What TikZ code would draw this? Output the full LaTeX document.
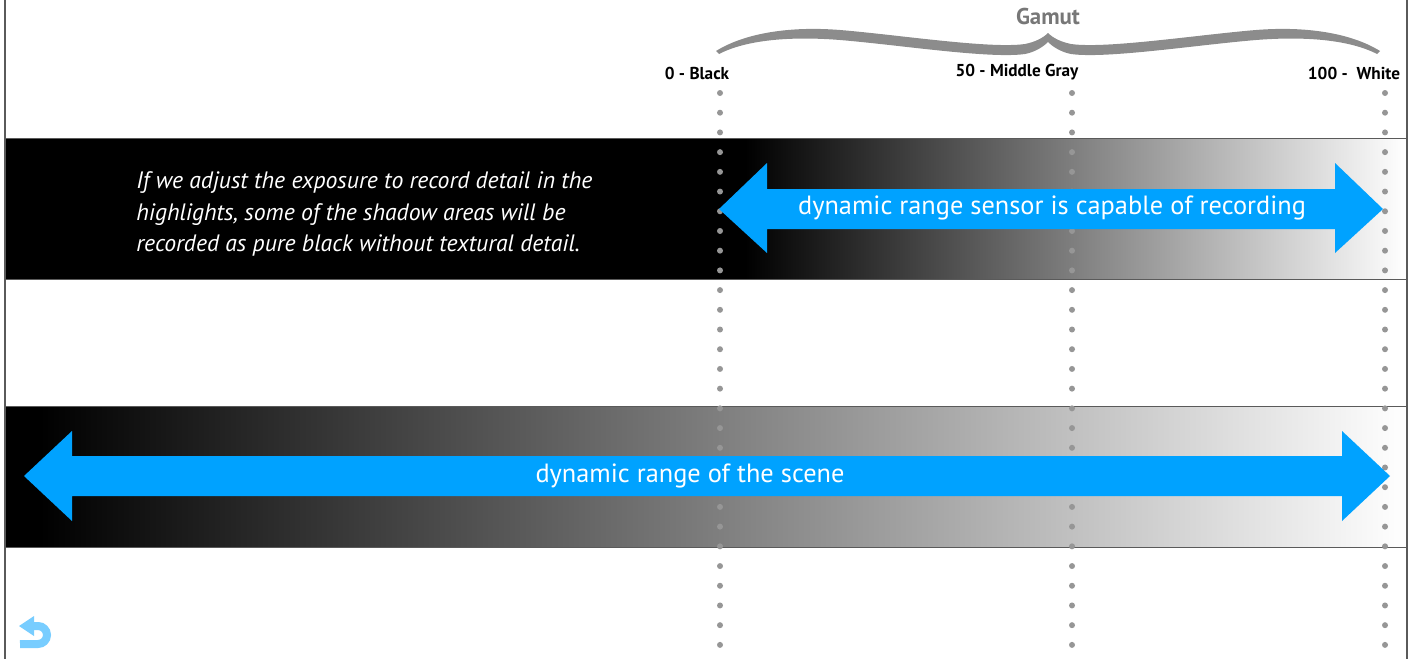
\documentclass[tikz,border=0pt]{standalone}
\usepackage{fontspec}
\setmainfont{PT Sans}
\usetikzlibrary{calc}
\definecolor{arrowblue}{RGB}{0,162,255}
\definecolor{dotgray}{RGB}{150,150,150}
\definecolor{bracegray}{RGB}{140,140,140}
\definecolor{iconblue}{RGB}{120,205,255}
\definecolor{framegray}{RGB}{90,90,90}
\tikzset{>=stealth,
  scale label/.style={font=\fontsize{9.8pt}{11pt}\selectfont\bfseries, text=black},
  arrow text/.style={text=white, font=\fontsize{15pt}{17pt}\selectfont}
}

\begin{document}
\begin{tikzpicture}[x=0.02cm,y=-0.02cm]
    \useasboundingbox (0,0) rectangle (1413,659);

    % the two bands
    \fill[black] (5,138) rectangle (745,279);
    \shade[left color=black,right color=white] (745,138) rectangle (1407,279);
    \fill[black] (5,406) rectangle (40,547);
    \shade[left color=black,right color=white] (40,406) rectangle (1407,547);
    \foreach \y in {138,279,406,547}
        \draw[framegray,line width=0.02cm] (5,\y) -- (1407,\y);
    \draw[framegray,line width=0.04cm] (5,0) -- (5,659) (1407,0) -- (1407,659);

    % dotted columns
    \foreach \x in {720,1072,1385}
        \foreach \i in {0,...,28}
            \fill[dotgray] (\x,93+\i*19.71) circle[radius=0.06cm];

    % arrows
    \fill[arrowblue] (719,209) -- (767,163) -- (767,189) -- (1335,189) -- (1335,163) -- (1383,209)
        -- (1335,253) -- (1335,229) -- (767,229) -- (767,253) -- cycle;
    \fill[arrowblue] (24,476) -- (72,431) -- (72,456) -- (1342,456) -- (1342,431) -- (1390,476)
        -- (1342,521) -- (1342,496) -- (72,496) -- (72,521) -- cycle;
    \node[arrow text] at (1052,208) (sensor) {dynamic range sensor is capable of recording};
    \node[arrow text] at (690,476) (scene) {dynamic range of the scene};

    \node[anchor=north west, align=left, inner sep=0, text=white,
          font=\fontsize{13.5pt}{18.1pt}\selectfont\itshape] at (136,171) (note)
        {If we adjust the exposure to record detail in the\\
         highlights, some of the shadow areas will be\\
         recorded as pure black without textural detail.};

    % gamut brace
    \fill[bracegray] (716,51) .. controls (745,33) and (790,26) .. (840,30)
        .. controls (900,35) and (990,49) .. (1025,44)
        .. controls (1035,42) and (1043,38) .. (1048,33)
        .. controls (1053,38) and (1061,42) .. (1071,44)
        .. controls (1106,49) and (1196,35) .. (1256,30)
        .. controls (1306,26) and (1351,33) .. (1380,51)
        -- (1377,54) .. controls (1350,40) and (1306,36) .. (1256,40)
        .. controls (1196,45) and (1106,59) .. (1071,54)
        .. controls (1061,52) and (1053,47) .. (1048,42)
        .. controls (1043,47) and (1035,52) .. (1025,54)
        .. controls (990,59) and (900,45) .. (840,40)
        .. controls (790,36) and (746,40) .. (719,54) -- cycle;
    \node[font=\fontsize{13pt}{14pt}\selectfont\bfseries, text=bracegray!85!black] at (1048,17) (gamut) {Gamut};
    \node[scale label] at (697,73) (black) {0 - Black};
    \node[scale label] at (1017,72) (middle) {50 - Middle Gray};
    \node[scale label] at (1354,73) (white) {100 -\ \ White};

    % back icon
    \fill[iconblue] (19,626) -- (34,616) -- (34,636) -- cycle;
    \draw[iconblue,line width=0.16cm] (32,626) -- (38,626) arc[start angle=90,end angle=-90,radius=0.18cm] -- (20,644);
\end{tikzpicture}
\end{document}
